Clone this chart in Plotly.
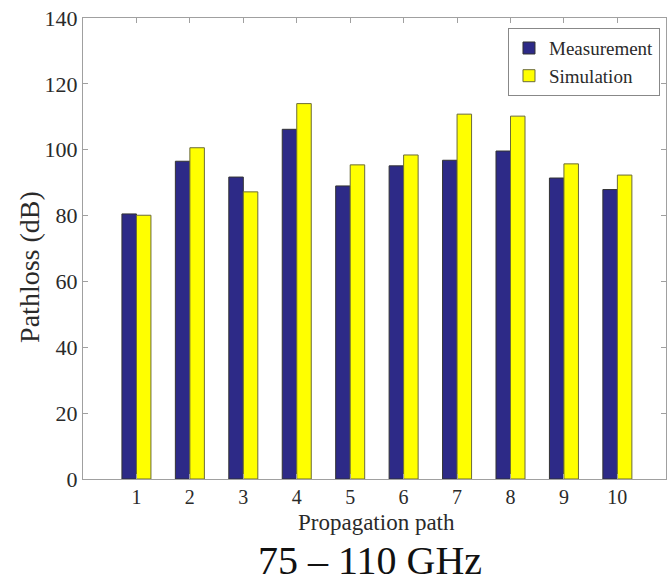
import plotly.graph_objects as go

paths = [1, 2, 3, 4, 5, 6, 7, 8, 9, 10]
measurement = [80.5, 96.5, 91.7, 106.2, 89.0, 95.1, 96.8, 99.6, 91.4, 87.9]
simulation = [80.1, 100.6, 87.2, 114.0, 95.4, 98.4, 110.8, 110.2, 95.7, 92.3]
y_ticks = [0, 20, 40, 60, 80, 100, 120, 140]

font_family = "Liberation Serif, Times New Roman, serif"
txt = "#2a2a2a"

fig = go.Figure()
fig.add_trace(go.Bar(x=paths, y=measurement, name="Measurement",
                     marker=dict(color="#2d2a87", line=dict(color="#333333", width=1))))
fig.add_trace(go.Bar(x=paths, y=simulation, name="Simulation",
                     marker=dict(color="#ffff00", line=dict(color="#6b6b3a", width=1))))

fig.update_layout(
    width=667, height=585,
    barmode="group", bargap=0.457, bargroupgap=0.0,
    plot_bgcolor="white", paper_bgcolor="white",
    margin=dict(l=83, r=1, t=18, b=106),
    font=dict(family=font_family, size=20, color=txt),
    legend=dict(x=0.9897, y=0.978, xanchor="right", yanchor="top",
                bordercolor="#888888", borderwidth=1, bgcolor="white",
                font=dict(size=19), tracegroupgap=0, itemwidth=30),
    showlegend=True,
)
fig.update_xaxes(range=[0, 10.91], tickvals=paths, ticktext=[str(p) for p in paths],
                 showline=True, linecolor="#a0a0a0", linewidth=1, mirror="ticks",
                 ticks="inside", ticklen=5, tickcolor="#a0a0a0",
                 showgrid=False, zeroline=False, automargin=False,
                 tickfont=dict(size=20))
fig.update_yaxes(range=[0, 140], tickvals=y_ticks,
                 showline=True, linecolor="#a0a0a0", linewidth=1, mirror="ticks",
                 ticks="inside", ticklen=5, tickcolor="#a0a0a0",
                 showgrid=False, zeroline=False, automargin=False,
                 tickfont=dict(size=22))
# axis titles
fig.add_annotation(text="Propagation path", xref="paper", yref="paper",
                   x=0.504, y=-0.0933, xanchor="center", yanchor="middle",
                   showarrow=False, font=dict(size=23, color=txt))
fig.add_annotation(text="Pathloss (dB)", xref="paper", yref="paper", textangle=-90,
                   x=-0.091, y=0.46, xanchor="center", yanchor="middle",
                   showarrow=False, font=dict(size=28, color=txt))
# caption
fig.add_annotation(text="75 – 110 GHz", xref="paper", yref="paper",
                   x=0.492, y=-0.2295, xanchor="center", yanchor="bottom",
                   showarrow=False, font=dict(size=40, color="#111111"))

fig.write_html("out.html", config={"displayModeBar": False},
               post_script="document.body.style.margin='0';document.body.style.padding='0';")
